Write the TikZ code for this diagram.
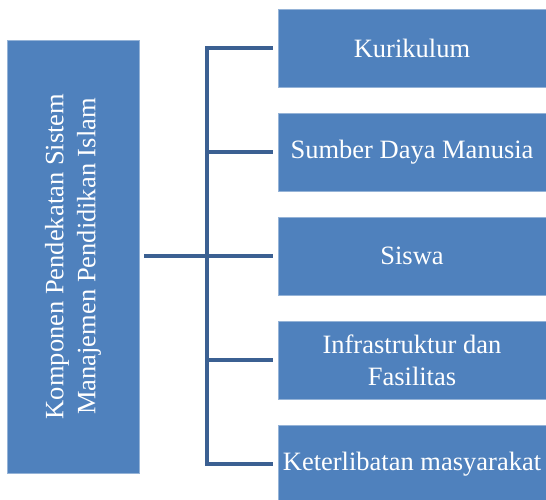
\documentclass[tikz,border=0pt]{standalone}
\usepackage{fontspec}
\setmainfont{Liberation Serif}
\usetikzlibrary{positioning}
\definecolor{boxblue}{HTML}{4F81BD}
\definecolor{linkblue}{HTML}{3B6092}

\tikzset{
  comp/.style={fill=boxblue, draw=boxblue!60!white, line width=0.6pt, text=white,
    minimum width=268pt, minimum height=78pt, inner sep=2pt, outer sep=0pt,
    align=center, font=\fontsize{26.5}{32}\selectfont},
  link/.style={draw=linkblue, line width=4pt}
}

\begin{document}
\begin{tikzpicture}[x=1pt, y=-1pt]
\useasboundingbox (0,0) rectangle (546,500);
% main box
\node[comp, rotate=90, minimum width=433pt, minimum height=132pt] (root) at (73,256.5)
  {Komponen Pendekatan Sistem\\Manajemen Pendidikan Islam};
% components
\node[comp] (kur) at (412,48) {Kurikulum};
\node[comp, below=26pt of kur] (sdm) {Sumber Daya Manusia};
\node[comp, below=26pt of sdm] (sis) {Siswa};
\node[comp, below=26pt of sis] (inf) {Infrastruktur dan\\Fasilitas};
\node[comp, below=26pt of inf] (ket) {Keterlibatan masyarakat};
% connectors
\coordinate (spine) at (207,0);
\draw[link, line cap=rect] (spine |- kur) -- (spine |- ket);
\draw[link, shorten <=5pt] (root.south |- sis) -- (spine |- sis);
\foreach \n in {kur,sdm,sis,inf,ket}
  \draw[link, shorten >=5pt] (spine |- \n) -- (\n.west);
\end{tikzpicture}
\end{document}
